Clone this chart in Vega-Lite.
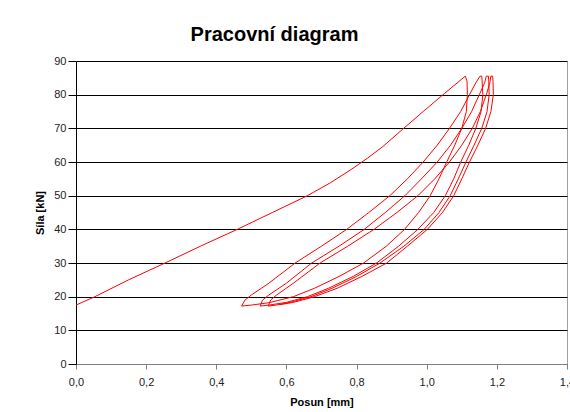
{
  "$schema": "https://vega.github.io/schema/vega-lite/v6.json",
  "width": 491,
  "height": 303,
  "autosize": {"type": "none"},
  "padding": {"left": 76, "top": 61, "right": 3, "bottom": 48},
  "background": "white",
  "title": {"text": "Pracovní diagram", "font": "Liberation Sans", "fontSize": 20, "fontWeight": "bold", "color": "black", "anchor": "middle", "dx": -47, "offset": 10},
  "config": {
    "view": {"stroke": "#a0a0a0", "strokeWidth": 1},
    "axis": {"labelFont": "Liberation Sans", "labelFontSize": 11, "labelColor": "#222", "titleFont": "Liberation Sans", "titleFontSize": 11, "titleFontWeight": "bold", "titleColor": "black"}
  },
  "data": {"values": [
    {"i":1,"x":0.0,"y":17.5},{"i":2,"x":0.054,"y":20},{"i":3,"x":0.15,"y":25},{"i":4,"x":0.254,"y":30},{"i":5,"x":0.355,"y":35},{"i":6,"x":0.46,"y":40},{"i":7,"x":0.56,"y":45},{"i":8,"x":0.66,"y":50},{"i":9,"x":0.725,"y":53.8},{"i":10,"x":0.785,"y":57.8},{"i":11,"x":0.832,"y":61.2},{"i":12,"x":0.875,"y":64.6},{"i":13,"x":0.93,"y":69.6},{"i":14,"x":0.99,"y":75},{"i":15,"x":1.05,"y":80.3},{"i":16,"x":1.11,"y":85.5},
    {"i":17,"x":1.115,"y":84},{"i":18,"x":1.116,"y":80},{"i":19,"x":1.113,"y":75},{"i":20,"x":1.1,"y":70},{"i":21,"x":1.08,"y":65},{"i":22,"x":1.057,"y":60},{"i":23,"x":1.035,"y":55},{"i":24,"x":1.01,"y":50},{"i":25,"x":0.977,"y":45},{"i":26,"x":0.937,"y":40},{"i":27,"x":0.885,"y":35},{"i":28,"x":0.82,"y":30},{"i":29,"x":0.75,"y":26},{"i":30,"x":0.68,"y":22.5},{"i":31,"x":0.62,"y":20},{"i":32,"x":0.55,"y":18.2},{"i":33,"x":0.5,"y":17.5},{"i":34,"x":0.472,"y":17.2},
    {"i":35,"x":0.482,"y":19},{"i":36,"x":0.5,"y":20.5},{"i":37,"x":0.55,"y":24},{"i":38,"x":0.625,"y":30},{"i":39,"x":0.7,"y":35},{"i":40,"x":0.772,"y":40},{"i":41,"x":0.835,"y":45},{"i":42,"x":0.895,"y":50},{"i":43,"x":0.945,"y":55},{"i":44,"x":0.99,"y":60},{"i":45,"x":1.03,"y":65},{"i":46,"x":1.065,"y":70},{"i":47,"x":1.097,"y":75},{"i":48,"x":1.122,"y":80},{"i":49,"x":1.14,"y":83.5},{"i":50,"x":1.152,"y":85.5},{"i":51,"x":1.157,"y":85.5},
    {"i":52,"x":1.158,"y":84},{"i":53,"x":1.16,"y":80},{"i":54,"x":1.155,"y":75},{"i":55,"x":1.14,"y":70},{"i":56,"x":1.12,"y":65},{"i":57,"x":1.097,"y":60},{"i":58,"x":1.077,"y":55},{"i":59,"x":1.053,"y":50},{"i":60,"x":1.02,"y":45},{"i":61,"x":0.975,"y":40},{"i":62,"x":0.92,"y":35},{"i":63,"x":0.857,"y":30},{"i":64,"x":0.79,"y":26},{"i":65,"x":0.72,"y":22.5},{"i":66,"x":0.66,"y":20},{"i":67,"x":0.6,"y":18.3},{"i":68,"x":0.55,"y":17.5},{"i":69,"x":0.525,"y":17.2},
    {"i":70,"x":0.532,"y":19},{"i":71,"x":0.55,"y":20.5},{"i":72,"x":0.6,"y":24},{"i":73,"x":0.672,"y":30},{"i":74,"x":0.75,"y":35},{"i":75,"x":0.822,"y":40},{"i":76,"x":0.882,"y":45},{"i":77,"x":0.938,"y":50},{"i":78,"x":0.985,"y":55},{"i":79,"x":1.03,"y":60},{"i":80,"x":1.068,"y":65},{"i":81,"x":1.1,"y":70},{"i":82,"x":1.128,"y":75},{"i":83,"x":1.15,"y":80},{"i":84,"x":1.165,"y":83.5},{"i":85,"x":1.17,"y":85.5},{"i":86,"x":1.176,"y":85.5},
    {"i":87,"x":1.177,"y":84},{"i":88,"x":1.178,"y":80},{"i":89,"x":1.172,"y":75},{"i":90,"x":1.157,"y":70},{"i":91,"x":1.135,"y":65},{"i":92,"x":1.112,"y":60},{"i":93,"x":1.09,"y":55},{"i":94,"x":1.067,"y":50},{"i":95,"x":1.035,"y":45},{"i":96,"x":0.993,"y":40},{"i":97,"x":0.935,"y":35},{"i":98,"x":0.867,"y":30},{"i":99,"x":0.8,"y":26},{"i":100,"x":0.73,"y":22.5},{"i":101,"x":0.67,"y":20},{"i":102,"x":0.61,"y":18.3},{"i":103,"x":0.57,"y":17.5},{"i":104,"x":0.548,"y":17.2},
    {"i":105,"x":0.555,"y":19},{"i":106,"x":0.572,"y":20.5},{"i":107,"x":0.62,"y":24},{"i":108,"x":0.696,"y":30},{"i":109,"x":0.775,"y":35},{"i":110,"x":0.85,"y":40},{"i":111,"x":0.915,"y":45},{"i":112,"x":0.975,"y":50},{"i":113,"x":1.023,"y":55},{"i":114,"x":1.065,"y":60},{"i":115,"x":1.1,"y":65},{"i":116,"x":1.13,"y":70},{"i":117,"x":1.153,"y":75},{"i":118,"x":1.17,"y":80},{"i":119,"x":1.18,"y":83.5},{"i":120,"x":1.183,"y":85.5},{"i":121,"x":1.188,"y":85.5},
    {"i":122,"x":1.189,"y":84},{"i":123,"x":1.19,"y":80},{"i":124,"x":1.183,"y":75},{"i":125,"x":1.168,"y":70},{"i":126,"x":1.146,"y":65},{"i":127,"x":1.122,"y":60},{"i":128,"x":1.1,"y":55},{"i":129,"x":1.077,"y":50},{"i":130,"x":1.045,"y":45},{"i":131,"x":1.002,"y":40},{"i":132,"x":0.945,"y":35},{"i":133,"x":0.886,"y":30},{"i":134,"x":0.815,"y":26},{"i":135,"x":0.745,"y":22.5},{"i":136,"x":0.68,"y":20},{"i":137,"x":0.62,"y":18.3},{"i":138,"x":0.58,"y":17.6}
  ]},
  "mark": {"type": "line", "color": "#ff0000", "strokeWidth": 1},
  "encoding": {
    "x": {"field": "x", "type": "quantitative", "scale": {"domain": [0, 1.4], "nice": false, "zero": false},
      "axis": {"title": "Posun [mm]", "values": [0, 0.2, 0.4, 0.6, 0.8, 1.0, 1.2, 1.4], "format": ".1f", "labelExpr": "replace(datum.label, '.', ',')", "grid": false, "domainColor": "#808080", "tickColor": "#808080", "tickSize": 5, "labelPadding": 7, "titlePadding": 9, "labelFlush": false, "labelOverlap": false}},
    "y": {"field": "y", "type": "quantitative", "scale": {"domain": [0, 90], "nice": false},
      "axis": {"title": "Síla [kN]", "values": [0, 10, 20, 30, 40, 50, 60, 70, 80, 90], "grid": true, "gridColor": "black", "gridOpacity": 1, "domainColor": "black", "tickColor": "black", "tickSize": 8, "labelPadding": 2, "titlePadding": 8, "labelFlush": false, "labelOverlap": false}},
    "order": {"field": "i", "type": "quantitative"}
  }
}
